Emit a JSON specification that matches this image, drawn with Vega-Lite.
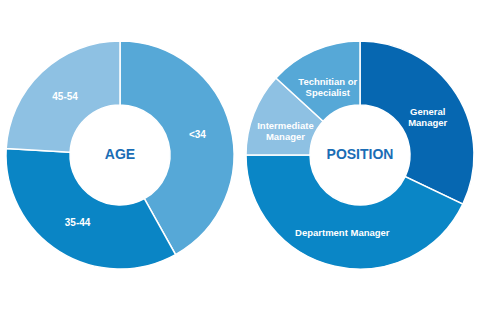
{
  "$schema": "https://vega.github.io/schema/vega-lite/v6.json",
  "background": "white",
  "padding": 0,
  "autosize": {"type": "none"},
  "width": 480,
  "height": 310,
  "config": {
    "view": {"stroke": null},
    "range": {"category": ["#0a85c5", "#8ec1e3", "#56a8d7", "#0a86c6", "#0667b1", "#8ec1e3", "#56a8d7"]}
  },
  "datasets": {
    "slices": [
      {"chart": "AGE", "cat": "<34", "label": "<34", "value": 41.9, "rank": 1},
      {"chart": "AGE", "cat": "35-44", "label": "35-44", "value": 34.0, "rank": 2},
      {"chart": "AGE", "cat": "45-54", "label": "45-54", "value": 24.1, "rank": 3},
      {"chart": "POSITION", "cat": "General Manager", "label": "General\nManager", "value": 32.1, "rank": 1},
      {"chart": "POSITION", "cat": "Department Manager", "label": "Department Manager", "value": 42.9, "rank": 2},
      {"chart": "POSITION", "cat": "Intermediate Manager", "label": "Intermediate\nManager", "value": 11.8, "rank": 3},
      {"chart": "POSITION", "cat": "Technitian or Specialist", "label": "Technitian or\nSpecialist", "value": 13.2, "rank": 4}
    ],
    "titles": [
      {"chart": "AGE"},
      {"chart": "POSITION"}
    ]
  },
  "layer": [
    {
      "data": {"name": "slices"},
      "transform": [{"filter": "datum.chart == 'AGE'"}],
      "mark": {"type": "arc", "innerRadius": 50, "outerRadius": 114},
      "encoding": {
        "x": {"field": "chart", "type": "nominal", "axis": null},
        "theta": {"field": "value", "type": "quantitative", "stack": true},
        "order": {"field": "rank", "type": "quantitative"},
        "fill": {"field": "cat", "type": "nominal", "legend": null},
        "stroke": {"value": "white"},
        "strokeWidth": {"value": 1.5}
      }
    },
    {
      "data": {"name": "slices"},
      "transform": [{"filter": "datum.chart == 'POSITION'"}],
      "mark": {"type": "arc", "innerRadius": 50, "outerRadius": 114},
      "encoding": {
        "x": {"field": "chart", "type": "nominal", "axis": null},
        "theta": {"field": "value", "type": "quantitative", "stack": true},
        "order": {"field": "rank", "type": "quantitative"},
        "fill": {"field": "cat", "type": "nominal", "legend": null},
        "stroke": {"value": "white"},
        "strokeWidth": {"value": 1.5}
      }
    },
    {
      "data": {"name": "slices"},
      "transform": [{"filter": "datum.chart == 'AGE'"}],
      "mark": {"type": "text", "radius": 80, "font": "Liberation Sans", "fontSize": 10, "fontWeight": "bold", "align": "center", "baseline": "middle", "lineBreak": "\n"},
      "encoding": {
        "x": {"field": "chart", "type": "nominal", "axis": null},
        "theta": {"field": "value", "type": "quantitative", "stack": true},
        "order": {"field": "rank", "type": "quantitative"},
        "text": {"field": "label", "type": "nominal"},
        "color": {"value": "white"}
      }
    },
    {
      "data": {"name": "slices"},
      "transform": [{"filter": "datum.chart == 'POSITION'"}],
      "mark": {"type": "text", "radius": 80, "font": "Liberation Sans", "fontSize": 9.5, "fontWeight": "bold", "align": "center", "baseline": "middle", "lineBreak": "\n", "lineHeight": 11},
      "encoding": {
        "x": {"field": "chart", "type": "nominal", "axis": null},
        "theta": {"field": "value", "type": "quantitative", "stack": true},
        "order": {"field": "rank", "type": "quantitative"},
        "text": {"field": "label", "type": "nominal"},
        "color": {"value": "white"}
      }
    },
    {
      "data": {"name": "titles"},
      "mark": {"type": "text", "font": "Liberation Sans", "fontSize": 14, "fontWeight": "bold", "align": "center", "baseline": "middle"},
      "encoding": {
        "x": {"field": "chart", "type": "nominal", "axis": null},
        "text": {"field": "chart", "type": "nominal"},
        "color": {"value": "#1a6db5"}
      }
    }
  ]
}
